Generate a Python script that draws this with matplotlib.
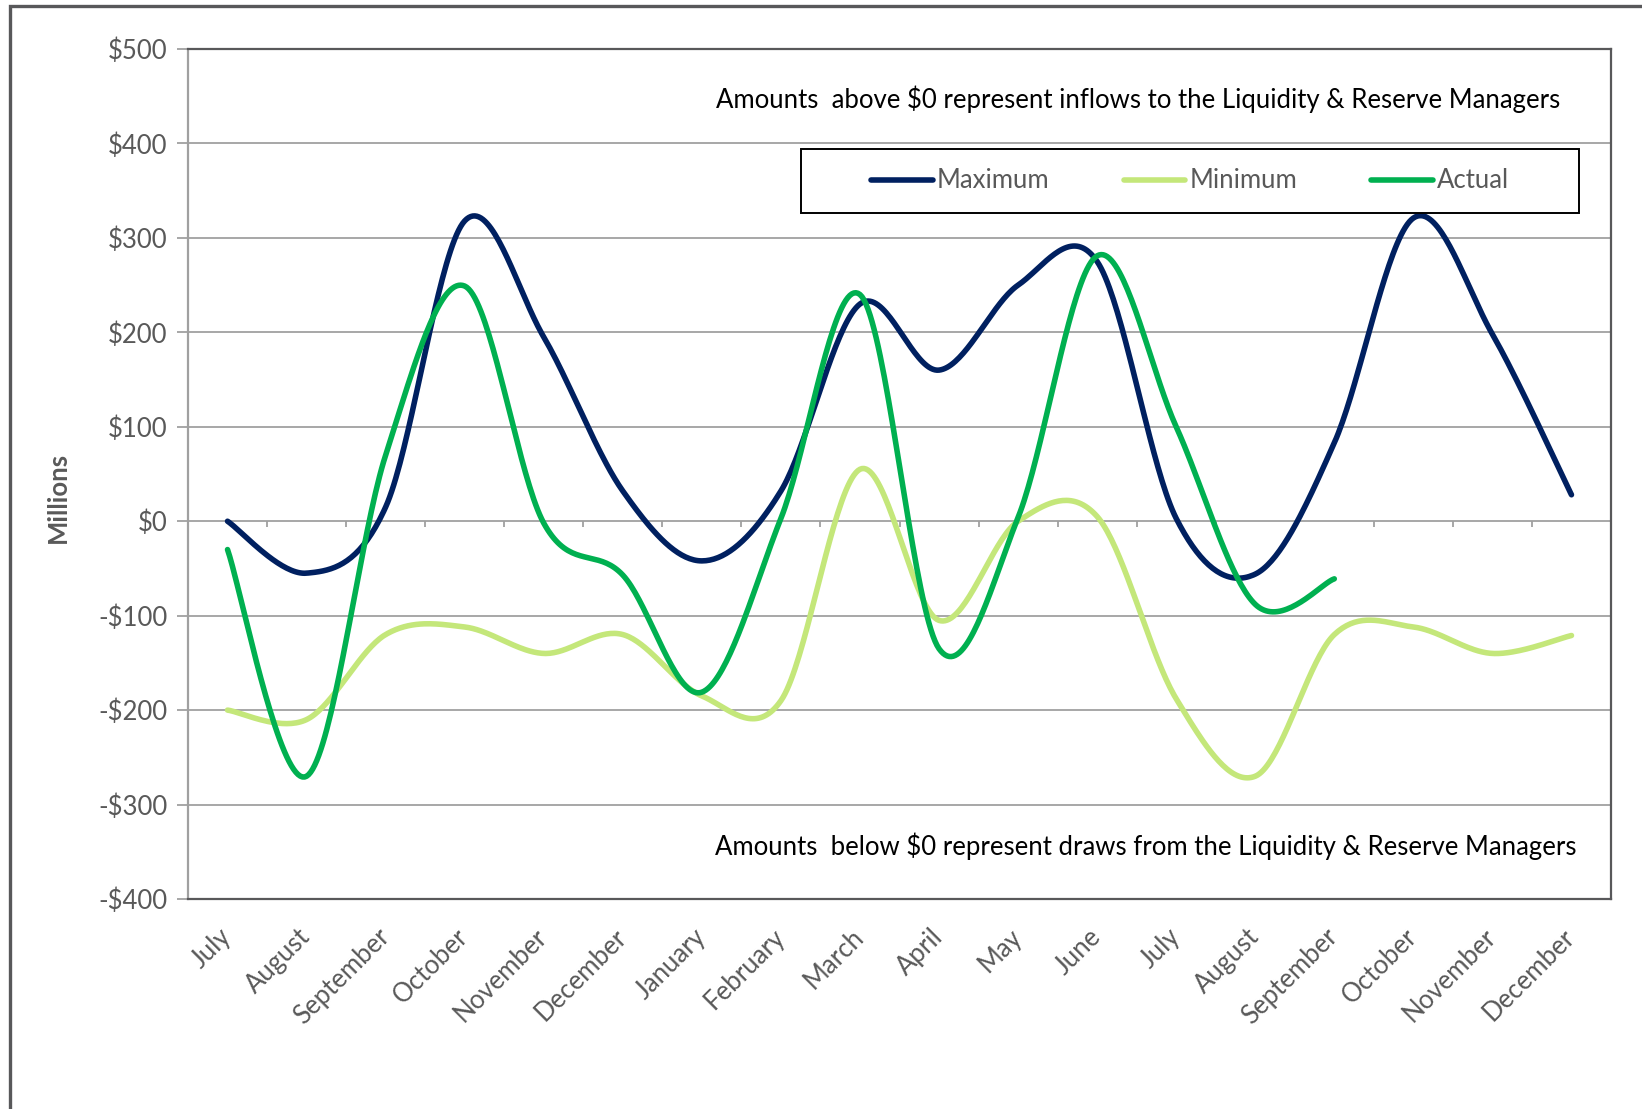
import numpy as np
import matplotlib
matplotlib.use("Agg")
import matplotlib.pyplot as plt
import matplotlib.transforms as mtransforms
from matplotlib.patches import Rectangle
from matplotlib.lines import Line2D

plt.rcParams['font.family'] = ['Lato', 'DejaVu Sans']

months = ["July", "August", "September", "October", "November", "December",
          "January", "February", "March", "April", "May", "June",
          "July", "August", "September", "October", "November", "December"]

maximum = [0, -55, 15, 318, 195, 32, -42, 32, 230, 160, 250, 275,
           3, -56, 83, 321, 198, 28]
minimum = [-200, -210, -120, -112, -140, -120, -185, -190, 55, -105, 0, 5,
           -188, -270, -120, -112, -140, -121]
actual = [-30, -270, 70, 249, -2, -57, -181, 3, 240, -135, 4, 281,
          100, -88, -61]

y_ticks = [500, 400, 300, 200, 100, 0, -100, -200, -300, -400]

C_MAX = "#002060"
C_MIN = "#C4E77A"
C_ACT = "#00B050"
GRID = "#a0a0a0"
TXT = "#595959"
FS = 18.5


def smooth(values, n=40):
    """Catmull-Rom style cubic Bezier smoothing through every point."""
    y = np.asarray(values, dtype=float)
    x = np.arange(len(y), dtype=float)
    xs, ys = [], []
    for i in range(len(y) - 1):
        y0 = y[i - 1] if i > 0 else y[i]
        y3 = y[i + 2] if i + 2 < len(y) else y[i + 1]
        x0 = x[i - 1] if i > 0 else x[i]
        x3 = x[i + 2] if i + 2 < len(y) else x[i + 1]
        p0 = np.array([x[i], y[i]])
        p3 = np.array([x[i + 1], y[i + 1]])
        c1 = p0 + (p3 - np.array([x0, y0])) / 6.0
        c2 = p3 - (np.array([x3, y3]) - p0) / 6.0
        t = np.linspace(0, 1, n)[:, None]
        pts = ((1 - t) ** 3) * p0 + 3 * ((1 - t) ** 2) * t * c1 \
            + 3 * (1 - t) * t ** 2 * c2 + t ** 3 * p3
        if i > 0:
            pts = pts[1:]
        xs.append(pts[:, 0])
        ys.append(pts[:, 1])
    return np.concatenate(xs), np.concatenate(ys)


W, H = 1642, 1109
fig = plt.figure(figsize=(W / 100, H / 100), dpi=100)

# outer frame of the chart object
fig.add_artist(Rectangle((10 / W, -0.1), 1.2, 1 - 6 / H + 0.1,
                         transform=fig.transFigure, fill=False,
                         edgecolor="#58585a", linewidth=2.4))

ax = fig.add_axes([188 / W, 1 - 899 / H, (1611 - 188) / W, (899 - 49) / H])
ax.set_xlim(-0.5, len(months) - 0.5)
ax.set_ylim(-400, 500)

for v in y_ticks:
    if -400 < v < 500:
        ax.axhline(v, color=GRID, linewidth=1.3, zorder=1)

# category axis tick marks on the zero line
bounds = np.arange(0.5, len(months) - 0.5, 1.0)
ax.vlines(bounds, -6, 0, color=GRID, linewidth=1.3, zorder=1)

for vals, col in [(maximum, C_MAX), (minimum, C_MIN), (actual, C_ACT)]:
    sx, sy = smooth(vals)
    ax.plot(sx, sy, color=col, linewidth=4.0, solid_capstyle="round",
            solid_joinstyle="round", zorder=3)

for side in ["top", "right", "bottom"]:
    ax.spines[side].set_color("#58585a")
    ax.spines[side].set_linewidth(1.6)
ax.spines["left"].set_color(GRID)
ax.spines["left"].set_linewidth(1.6)

ax.set_yticks(y_ticks)
ax.set_yticklabels([("-$" if v < 0 else "$") + str(abs(v)) for v in y_ticks],
                   fontsize=FS, color=TXT)
ax.tick_params(axis="y", length=8, width=1.3, color=GRID, pad=7)

ax.set_xticks(range(len(months)))
ax.set_xticklabels(months, rotation=45, ha="right", va="top",
                   rotation_mode="anchor", fontsize=FS, color=TXT)
ax.tick_params(axis="x", length=0, pad=18)
shift = mtransforms.ScaledTranslation(-9 / 100, 0, fig.dpi_scale_trans)
for lbl in ax.get_xticklabels():
    lbl.set_transform(lbl.get_transform() + shift)

fig.text(58 / W, 1 - 497 / H, "Millions", rotation=90, fontsize=FS,
         fontweight="bold", color=TXT, ha="center", va="center")

ax.text(1560 / W, 1 - 99 / H,
        "Amounts  above $0 represent inflows to the Liquidity & Reserve Managers",
        transform=fig.transFigure, ha="right", va="center", fontsize=FS,
        color="black", zorder=6)
ax.text(1576 / W, 1 - 846 / H,
        "Amounts  below $0 represent draws from the Liquidity & Reserve Managers",
        transform=fig.transFigure, ha="right", va="center", fontsize=FS,
        color="black", zorder=6)

# legend box
fig.add_artist(Rectangle((801 / W, 1 - 213 / H), (1579 - 801) / W, 64 / H,
                         transform=fig.transFigure, facecolor="white",
                         edgecolor="black", linewidth=1.4, zorder=4))

handles = [Line2D([], [], color=c, linewidth=4.0, solid_capstyle="round")
           for c in (C_MAX, C_MIN, C_ACT)]
leg = fig.legend(handles, ["Maximum", "Minimum", "Actual"], ncol=3,
                 loc="center", bbox_to_anchor=((801 + 1579) / 2 / W, 1 - 181 / H),
                 bbox_transform=fig.transFigure,
                 fontsize=FS, frameon=False,
                 handlelength=2.4, handletextpad=0.15,
                 columnspacing=2.9, borderpad=0)
for t in leg.get_texts():
    t.set_color(TXT)
leg.set_zorder(5)

fig.savefig("out.png", dpi=100, facecolor="white")
